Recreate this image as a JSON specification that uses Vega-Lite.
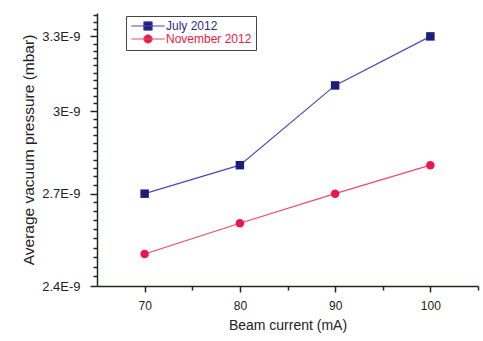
{
  "$schema": "https://vega.github.io/schema/vega-lite/v6.json",
  "width": 381,
  "height": 273,
  "autosize": {"type": "none"},
  "padding": {"left": 97, "top": 13, "right": 5, "bottom": 55},
  "background": "white",
  "config": {
    "view": {"stroke": null},
    "font": "Liberation Sans",
    "axis": {
      "domainColor": "#1f2a1f",
      "tickColor": "#1f2a1f",
      "labelColor": "#222222",
      "titleColor": "#222222",
      "grid": false,
      "labelFont": "Liberation Sans",
      "titleFont": "Liberation Sans",
      "titleFontWeight": "normal",
      "domainWidth": 1.5,
      "tickWidth": 1.5,
      "labelOverlap": false
    }
  },
  "data": {
    "values": [
      {"current": 70, "pressure": 2.7e-9, "series": "July 2012"},
      {"current": 80, "pressure": 2.8e-9, "series": "July 2012"},
      {"current": 90, "pressure": 3.1e-9, "series": "July 2012"},
      {"current": 100, "pressure": 3.3e-9, "series": "July 2012"},
      {"current": 70, "pressure": 2.5e-9, "series": "November 2012"},
      {"current": 80, "pressure": 2.6e-9, "series": "November 2012"},
      {"current": 90, "pressure": 2.7e-9, "series": "November 2012"},
      {"current": 100, "pressure": 2.8e-9, "series": "November 2012"}
    ]
  },
  "encoding": {
    "x": {
      "field": "current", "type": "quantitative",
      "scale": {"domain": [65, 105], "nice": false, "zero": false},
      "axis": {
        "values": [70, 75, 80, 85, 90, 95, 100, 105],
        "labelExpr": "datum.value % 10 == 0 ? datum.label : ''",
        "tickSize": {"condition": {"test": "datum.value % 10 == 0", "value": 6}, "value": 4},
        "title": "Beam current (mA)",
        "labelFontSize": 12, "labelPadding": 8, "titleFontSize": 14, "titlePadding": 7
      }
    },
    "y": {
      "field": "pressure", "type": "quantitative",
      "scale": {"type": "log", "domain": [2.4e-9, 3.4e-9], "nice": false},
      "axis": {
        "values": [2.4e-9, 2.43e-9, 2.46e-9, 2.49e-9, 2.52e-9, 2.55e-9, 2.58e-9, 2.61e-9, 2.64e-9, 2.67e-9,
                   2.7e-9, 2.73e-9, 2.76e-9, 2.79e-9, 2.82e-9, 2.85e-9, 2.88e-9, 2.91e-9, 2.94e-9, 2.97e-9,
                   3e-9, 3.03e-9, 3.06e-9, 3.09e-9, 3.12e-9, 3.15e-9, 3.18e-9, 3.21e-9, 3.24e-9, 3.27e-9,
                   3.3e-9, 3.33e-9, 3.36e-9, 3.39e-9],
        "labelExpr": "indexof([240, 270, 300, 330], round(datum.value * 1e11)) >= 0 ? format(datum.value * 1e9, '~g') + 'E-9' : ''",
        "tickSize": {"condition": {"test": "indexof([240, 270, 300, 330], round(datum.value * 1e11)) >= 0", "value": 7}, "value": 4},
        "title": "Average vacuum pressure (mbar)",
        "labelFontSize": 13, "labelPadding": 10, "titleFontSize": 15.5, "titlePadding": 5
      }
    }
  },
  "layer": [
    {
      "mark": {"type": "line", "strokeWidth": 1.2},
      "encoding": {
        "color": {
          "field": "series", "type": "nominal",
          "scale": {"domain": ["July 2012", "November 2012"], "range": ["#4a4ab8", "#ec4a66"]},
          "legend": {
            "orient": "none",
            "legendX": 29,
            "legendY": 3,
            "title": null,
            "strokeColor": "#444444",
            "padding": 4,
            "labelFont": "Liberation Sans",
            "labelFontSize": 12,
            "symbolSize": 70,
            "symbolOffset": 12,
            "labelOffset": 12,
            "rowPadding": -2,
            "symbolStrokeWidth": 1,
            "symbolType": "M-4,0H4M-1,-1H1V1H-1Z",
            "encode": {
              "symbols": {
                "update": {
                  "shape": {"signal": "datum.value == 'July 2012' ? 'M-4,0H4M-1,-1H1V1H-1Z' : 'M-4,0H4M1,0A1,1,0,1,1,-1,0A1,1,0,1,1,1,0Z'"},
                  "fill": {"signal": "datum.value == 'July 2012' ? '#1c1f7a' : '#e8194a'"},
                  "stroke": {"signal": "datum.value == 'July 2012' ? '#4a4ab8' : '#ec4a66'"},
                  "opacity": {"value": 1}
                }
              },
              "labels": {
                "update": {
                  "fill": {"signal": "datum.value == 'July 2012' ? '#2a2a8c' : '#e8203f'"}
                }
              }
            }
          }
        }
      }
    },
    {
      "transform": [{"filter": "datum.series == 'July 2012'"}],
      "mark": {"type": "point", "shape": "square", "filled": true, "opacity": 1, "size": 72, "color": "#1c1f7a"}
    },
    {
      "transform": [{"filter": "datum.series == 'November 2012'"}],
      "mark": {"type": "point", "shape": "circle", "filled": true, "opacity": 1, "size": 72, "color": "#e8194a"}
    }
  ]
}
